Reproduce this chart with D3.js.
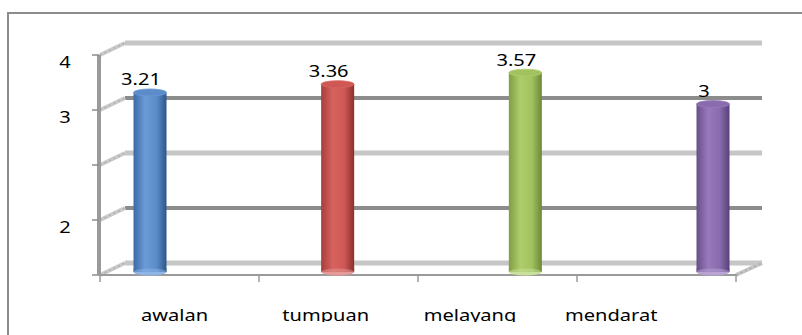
<!DOCTYPE html>
<html>
<head>
<meta charset="utf-8">
<script src="https://cdn.jsdelivr.net/npm/d3@7"></script>
<style>
  html, body { margin: 0; padding: 0; background: #fff; }
  svg { display: block; }
  text { font-family: "Noto Sans", "Open Sans", sans-serif; fill: #000; }
</style>
</head>
<body>
<svg id="chart" width="802" height="335"></svg>
<script>
// Data
const categories = ["awalan", "tumpuan", "melayang", "mendarat"];
const values = [3.21, 3.36, 3.57, 3];
const valueLabels = ["3.21", "3.36", "3.57", "3"];
const tickValues = [4, 3, 2, 1, 0];
const tickLabels = ["4", "3", "", "2", ""];
const barColors = [
  ["#3b6aa6", "#6c9bd6", "#2c5689", "#8fb5e6", "#5b8cc9"],
  ["#a43e3b", "#d8625f", "#8a302e", "#e59a98", "#cf5855"],
  ["#7f9e43", "#aecd6a", "#6c8837", "#c8e09a", "#a2c25f"],
  ["#684f89", "#9879bc", "#574079", "#b9a4d4", "#8a6cae"]
];

const svg = d3.select("#chart");
const sx = 1.18;      // horizontal stretch of the text glyphs
const fontSize = 17;

// Front plane of the 3-D plot box and its depth offset
const frontLeft = 99, frontRight = 736;
const depth = { dx: 26, dy: -12 };
const y = d3.scaleLinear().domain([0, 4]).range([275, 55]);
const xBand = d3.scaleBand().domain(categories).range([frontLeft + 1, frontRight]);
const xBar = d3.scalePoint().domain(categories).range([150, 713]);
const xLabel = d3.scalePoint().domain(categories).range([141, 565]);
const barWidth = 33, ry = 3.5;

// Outer frame
svg.append("path")
  .attr("d", "M8,335 L8,13 L802,13")
  .attr("fill", "none").attr("stroke", "#8c8c8c").attr("stroke-width", 2);

// Back-wall gridlines
const grid = svg.append("g");
tickValues.forEach((v, i) => {
  const light = i % 2 === 0;
  const yy = y(v) + depth.dy;
  grid.append("line")
    .attr("x1", frontLeft + depth.dx).attr("x2", frontRight + depth.dx)
    .attr("y1", yy).attr("y2", yy)
    .attr("stroke", light ? "#c6c6c6" : "#8c8c8c")
    .attr("stroke-width", light ? 5 : 4);
  // side wall
  grid.append("line")
    .attr("x1", frontLeft + 1).attr("y1", y(v))
    .attr("x2", frontLeft + depth.dx).attr("y2", yy)
    .attr("stroke", "#cacaca").attr("stroke-width", 4);
  grid.append("line")
    .attr("x1", frontLeft + 1).attr("y1", y(v))
    .attr("x2", frontLeft + depth.dx).attr("y2", yy)
    .attr("stroke", "#b0b0b0").attr("stroke-width", 1.5)
    .attr("stroke-dasharray", "2,3");
});
// Floor right edge
grid.append("line")
  .attr("x1", frontRight).attr("y1", y(0))
  .attr("x2", frontRight + depth.dx).attr("y2", y(0) + depth.dy)
  .attr("stroke", "#c6c6c6").attr("stroke-width", 4);
grid.append("line")
  .attr("x1", frontRight).attr("y1", y(0))
  .attr("x2", frontRight + depth.dx).attr("y2", y(0) + depth.dy)
  .attr("stroke", "#a8a8a8").attr("stroke-width", 1.5)
  .attr("stroke-dasharray", "2,3");

// Value axis (front left edge)
const yAxis = svg.append("g");
yAxis.append("line")
  .attr("x1", frontLeft).attr("x2", frontLeft)
  .attr("y1", y(4)).attr("y2", y(0))
  .attr("stroke", "#9a9a9a").attr("stroke-width", 4);
tickValues.forEach((v, i) => {
  yAxis.append("line")
    .attr("x1", frontLeft - 7).attr("x2", frontLeft)
    .attr("y1", y(v)).attr("y2", y(v))
    .attr("stroke", "#8c8c8c").attr("stroke-width", 1.5);
  if (tickLabels[i]) {
    yAxis.append("text")
      .attr("transform", `translate(65,${y(v) + 13}) scale(${sx},1)`)
      .attr("text-anchor", "middle")
      .attr("font-size", fontSize)
      .text(tickLabels[i]);
  }
});

// Category axis (front bottom edge)
const xAxis = svg.append("g");
xAxis.append("line")
  .attr("x1", frontLeft).attr("x2", frontRight)
  .attr("y1", y(0)).attr("y2", y(0))
  .attr("stroke", "#9a9a9a").attr("stroke-width", 2);
const edges = categories.map(c => xBand(c)).concat([frontRight]);
edges.forEach(ex => {
  xAxis.append("line")
    .attr("x1", ex).attr("x2", ex)
    .attr("y1", y(0)).attr("y2", y(0) + 7)
    .attr("stroke", "#9a9a9a").attr("stroke-width", 1.5);
});

// Cylinder gradients
const defs = svg.append("defs");
barColors.forEach((c, i) => {
  const g = defs.append("linearGradient").attr("id", "cyl" + i)
    .attr("x1", "0%").attr("x2", "100%").attr("y1", "0%").attr("y2", "0%");
  g.append("stop").attr("offset", "0%").attr("stop-color", c[0]);
  g.append("stop").attr("offset", "35%").attr("stop-color", c[1]);
  g.append("stop").attr("offset", "70%").attr("stop-color", c[4]);
  g.append("stop").attr("offset", "100%").attr("stop-color", c[2]);
});

// Bars (cylinders sit at mid depth)
const midDy = depth.dy / 2;
const bars = svg.append("g");
categories.forEach((cat, i) => {
  const cx = xBar(cat);
  const top = y(values[i]) + midDy;
  const bottom = y(0) - 3;
  const c = barColors[i];
  const b = bars.append("g");
  b.append("rect")
    .attr("x", cx - barWidth / 2).attr("y", top)
    .attr("width", barWidth).attr("height", bottom - top)
    .attr("fill", `url(#cyl${i})`);
  b.append("ellipse")
    .attr("cx", cx).attr("cy", bottom)
    .attr("rx", barWidth / 2).attr("ry", ry)
    .attr("fill", c[3]);
  b.append("rect")
    .attr("x", cx - barWidth / 2).attr("y", bottom - 4)
    .attr("width", barWidth).attr("height", 4)
    .attr("fill", `url(#cyl${i})`).attr("opacity", 0.5);
  b.append("ellipse")
    .attr("cx", cx).attr("cy", top)
    .attr("rx", barWidth / 2).attr("ry", ry)
    .attr("fill", c[4]).attr("stroke", c[1]).attr("stroke-width", 0.8);

  svg.append("text")
    .attr("transform", `translate(${cx - 9},${top - 7}) scale(${sx},1)`)
    .attr("text-anchor", "middle")
    .attr("font-size", fontSize)
    .text(valueLabels[i]);
});

// Category labels, cut off along the bottom
defs.append("clipPath").attr("id", "labelClip")
  .append("rect").attr("x", 0).attr("y", 290).attr("width", 802).attr("height", 32);
const labels = svg.append("g").attr("clip-path", "url(#labelClip)");
categories.forEach(cat => {
  labels.append("text")
    .attr("transform", `translate(${xLabel(cat)},321) scale(${sx},1)`)
    .attr("font-size", fontSize)
    .text(cat);
});
</script>
</body>
</html>
